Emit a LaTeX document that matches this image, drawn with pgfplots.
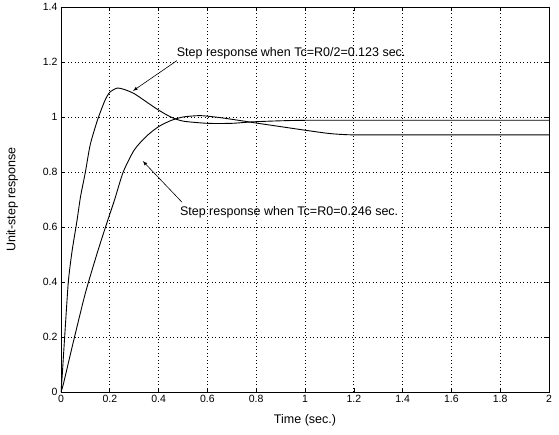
\documentclass[border=0pt]{standalone}
\usepackage{pgfplots}
\pgfplotsset{compat=1.18}
\usepackage{fontspec}
\setmainfont{Liberation Sans}
\usetikzlibrary{calc}
\begin{document}
\begin{tikzpicture}
\begin{axis}[
    scale only axis,
    width=488pt, height=385pt,
    xmin=0, xmax=2, ymin=0, ymax=1.4,
    xtick={0,0.2,...,2}, ytick={0,0.2,...,1.4},
    tick align=inside,
    major tick length=4pt,
    grid=major,
    major grid style={black, dash pattern=on 0.9pt off 2.6pt, line width=0.7pt},
    axis line style={line width=0.8pt},
    tick style={black, line width=0.6pt},
    /pgf/number format/assume math mode=true,
    ticklabel style={font=\fontsize{10.5}{12}\selectfont},
    xlabel={Time (sec.)},
    ylabel={Unit-step response},
    label style={font=\fontsize{12.5}{14}\selectfont},
    xlabel style={yshift=-5pt},
    ylabel style={yshift=18pt},
]
% Tc = R0/2 = 0.123 sec.
\addplot[black, line width=0.9pt, smooth, tension=0.4] coordinates {
    (0,0) (0.005,0.06) (0.015,0.2) (0.03,0.4) (0.045,0.51) (0.065,0.62)
    (0.08,0.71) (0.1,0.8) (0.12,0.9) (0.15,0.99) (0.18,1.06) (0.2,1.09)
    (0.23,1.105) (0.26,1.1) (0.3,1.085) (0.35,1.055) (0.4,1.025) (0.45,1.0)
    (0.5,0.985) (0.6,0.977) (0.7,0.977) (0.8,0.983) (1.0,0.988) (1.5,0.988) (2,0.988)
};
% Tc = R0 = 0.246 sec.
\addplot[black, line width=0.9pt, smooth, tension=0.4] coordinates {
    (0,0) (0.01,0.03) (0.05,0.18) (0.1,0.36) (0.15,0.51) (0.19,0.62)
    (0.22,0.7) (0.255,0.8) (0.3,0.88) (0.35,0.93) (0.4,0.965) (0.45,0.987)
    (0.5,1.0) (0.57,1.005) (0.65,0.998) (0.75,0.985) (0.8,0.978) (0.9,0.965)
    (1.0,0.952) (1.1,0.94) (1.2,0.935) (1.5,0.935) (2,0.935)
};
\node[anchor=west, font=\fontsize{12.5}{14}\selectfont, inner sep=1pt] at (axis cs:0.47,1.233) {Step response when Tc=R0/2=0.123 sec.};
\draw[-latex, line width=0.6pt] (axis cs:0.475,1.205) -- (axis cs:0.295,1.095);
\node[anchor=west, font=\fontsize{12.5}{14}\selectfont, inner sep=1pt] at (axis cs:0.483,0.655) {Step response when Tc=R0=0.246 sec.};
\draw[-latex, line width=0.6pt] (axis cs:0.496,0.69) -- (axis cs:0.335,0.84);
\end{axis}
\pgfresetboundingbox
\path ($(current axis.south west)+(-61pt,-42pt)$) rectangle ($(current axis.north east)+(10pt,7pt)$);
\end{tikzpicture}
\end{document}
